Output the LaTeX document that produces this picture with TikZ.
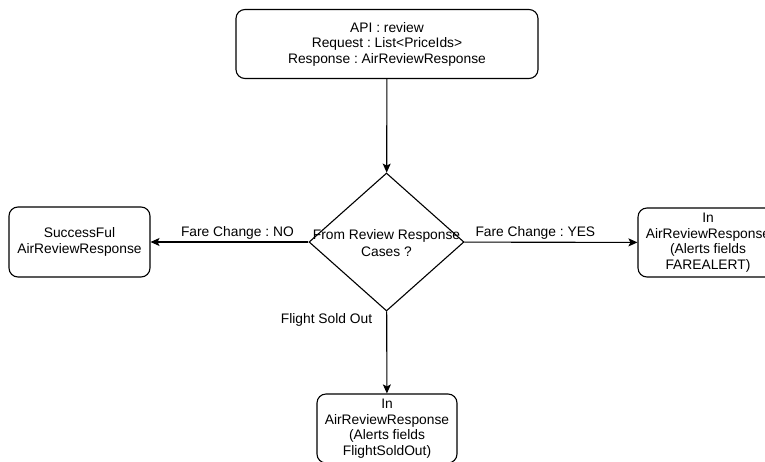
\documentclass[tikz,border=0pt]{standalone}
\usepackage{fontspec}
\setmainfont{Liberation Sans}
\usetikzlibrary{shapes.geometric,arrows.meta}
\frenchspacing

\tikzset{
	box/.style = {draw, rounded corners=9pt, line width=1.1pt, align=center, inner sep=0pt, minimum width=140pt, minimum height=69pt},
	decision/.style = {draw, diamond, line width=1.1pt, inner sep=0pt, minimum width=155pt, minimum height=138pt},
	flow/.style = {draw, line width=1.1pt, -{Stealth[length=9pt, width=8pt, inset=2pt]}},
	lbl/.style = {inner sep=2pt}
}

\begin{document}
\begin{tikzpicture}[x=1pt, y=-1pt, font=\fontsize{13.8}{15.5}\selectfont]
	\useasboundingbox ( 0, 0 ) rectangle ( 765, 461 );

	% запрос
	\node [box, minimum width=302pt] (api) at ( 387, 44 ) {API : review\\Request : List<PriceIds>\\Response : AirReviewResponse};

	% развилка
	\node [decision] (cases) at ( 386.5, 242 ) {};
	\node [align=center, font=\fontsize{13.8}{16.5}\selectfont] (casestext) at ( 386.5, 243 ) {From Review Response\\Cases ?};

	% исходы
	\node [box, minimum width=141pt, minimum height=70pt] (ok) at ( 79.5, 242 ) {SuccessFul\\AirReviewResponse};
	\node [box] (fare) at ( 708, 242.5 ) {In\\AirReviewResponse\\(Alerts fields\\FAREALERT)};
	\node [box] (sold) at ( 387, 428.5 ) {In\\AirReviewResponse\\(Alerts fields\\FlightSoldOut)};

	% связи
	\draw [flow] (api) -- (cases);
	\draw [flow] (cases) -- (ok) node [lbl, pos=0.45, above] {Fare Change : NO};
	\draw [flow] (cases) -- (fare) node [lbl, pos=0.41, above] {Fare Change : YES};
	\draw [flow] (cases) -- (sold) node [lbl, pos=0.1, left=12pt] {Flight Sold Out};
\end{tikzpicture}
\end{document}
